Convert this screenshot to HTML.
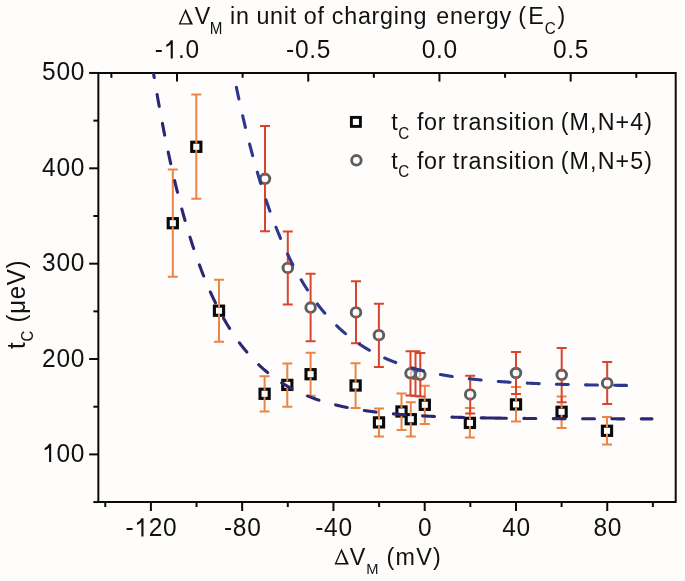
<!DOCTYPE html>
<html><head><meta charset="utf-8"><style>
html,body{margin:0;padding:0;background:#fefdfb;}
body{width:685px;height:581px;overflow:hidden;}
svg{display:block;filter:blur(0.3px);}
text{font-family:"Liberation Sans",sans-serif;fill:#111;letter-spacing:0.75px;}
</style></head><body>
<svg width="685" height="581" viewBox="0 0 685 581">
<defs><clipPath id="pc"><rect x="98.35" y="73.0" width="577.35" height="429.0"/></clipPath></defs>
<rect width="685" height="581" fill="#fefdfb"/>

<g stroke="#0a0a0a" stroke-width="2" fill="none" stroke-linecap="butt">
<path d="M98.35 72.0V503.0M675.7 72.0V503.0M97.35 73.0H676.7M97.35 502.0H676.7"/>
<path d="M93.35 502.07H98.35"/>
<path d="M89.15 454.39H98.35"/>
<path d="M93.35 406.71H98.35"/>
<path d="M89.15 359.03H98.35"/>
<path d="M93.35 311.35H98.35"/>
<path d="M89.15 263.67H98.35"/>
<path d="M93.35 215.99H98.35"/>
<path d="M89.15 168.31H98.35"/>
<path d="M93.35 120.63H98.35"/>
<path d="M89.15 72.95H98.35"/>
<path d="M105.26 502.0V507.0"/>
<path d="M150.90 502.0V511.0"/>
<path d="M196.53 502.0V507.0"/>
<path d="M242.16 502.0V511.0"/>
<path d="M287.80 502.0V507.0"/>
<path d="M333.43 502.0V511.0"/>
<path d="M379.07 502.0V507.0"/>
<path d="M424.70 502.0V511.0"/>
<path d="M470.33 502.0V507.0"/>
<path d="M515.97 502.0V511.0"/>
<path d="M561.60 502.0V507.0"/>
<path d="M607.24 502.0V511.0"/>
<path d="M652.87 502.0V507.0"/>
<path d="M111.39 73.0V77.8"/>
<path d="M177.00 73.0V81.6"/>
<path d="M242.61 73.0V77.8"/>
<path d="M308.23 73.0V81.6"/>
<path d="M373.84 73.0V77.8"/>
<path d="M439.45 73.0V81.6"/>
<path d="M505.06 73.0V77.8"/>
<path d="M570.67 73.0V81.6"/>
<path d="M636.29 73.0V77.8"/>
</g>
<g font-size="24.5">
<text x="42.07" y="461.89" transform="matrix(1 0 0 1.04 0 -18.476)">&#8199;00</text>
<text x="42.07" y="366.53" transform="matrix(1 0 0 1.04 0 -14.661)">200</text>
<text x="42.07" y="271.17" transform="matrix(1 0 0 1.04 0 -10.847)">300</text>
<text x="42.07" y="175.81" transform="matrix(1 0 0 1.04 0 -7.032)">400</text>
<text x="42.07" y="80.45" transform="matrix(1 0 0 1.04 0 -3.218)">500</text>
<text x="125.48" y="536.50" transform="matrix(1 0 0 1.04 0 -21.460)">-&#8199;20</text>
<text x="223.93" y="536.50" transform="matrix(1 0 0 1.04 0 -21.460)">-80</text>
<text x="315.20" y="536.50" transform="matrix(1 0 0 1.04 0 -21.460)">-40</text>
<text x="418.11" y="536.50" transform="matrix(1 0 0 1.04 0 -21.460)">0</text>
<text x="502.19" y="536.50" transform="matrix(1 0 0 1.04 0 -21.460)">40</text>
<text x="593.46" y="536.50" transform="matrix(1 0 0 1.04 0 -21.460)">80</text>
<text x="154.79" y="58.50" transform="matrix(1 0 0 1.04 0 -2.340)">-&#8199;.0</text>
<text x="286.02" y="58.50" transform="matrix(1 0 0 1.04 0 -2.340)">-0.5</text>
<text x="421.70" y="58.50" transform="matrix(1 0 0 1.04 0 -2.340)">0.0</text>
<text x="552.92" y="58.50" transform="matrix(1 0 0 1.04 0 -2.340)">0.5</text>
</g>
<path d="M51.20 461.89L49.05 461.89L49.05 447.72Q47.34 449.35 44.65 450.37L44.65 448.18Q47.83 446.65 49.13 443.65L51.20 443.65ZM143.51 536.50L141.36 536.50L141.36 522.33Q139.65 523.96 136.96 524.98L136.96 522.79Q140.14 521.26 141.44 518.26L143.51 518.26ZM172.83 58.50L170.68 58.50L170.68 44.33Q168.97 45.96 166.27 46.98L166.27 44.79Q169.46 43.26 170.76 40.26L172.83 40.26Z" fill="#111"/>
<text font-size="23.3" transform="matrix(1 0 0 1.04 0 -0.980)"><tspan x="194.70" y="24.50">V</tspan><tspan x="209.80" y="33.80" font-size="15.2">M</tspan><tspan x="230.00" y="24.50">in</tspan><tspan x="256.40" y="24.50">unit</tspan><tspan x="303.80" y="24.50">of</tspan><tspan x="331.80" y="24.50">charging</tspan><tspan x="436.20" y="24.50">energy</tspan><tspan x="518.30" y="24.50">(</tspan><tspan x="528.20" y="24.50">E</tspan><tspan x="544.65" y="33.80" font-size="15.2">C</tspan><tspan x="557.40" y="24.50">)</tspan></text>
<path d="M178.60 24.60L185.66 8.70L193.00 24.60ZM180.70 23.25L189.90 23.25L185.41 12.30Z" fill="#111" fill-rule="evenodd"/>
<text font-size="23.3" style="letter-spacing:1.25px" transform="matrix(1 0 0 1.04 0 -22.600)"><tspan x="349.80" y="565.00">V</tspan><tspan x="366.30" y="573.60" font-size="14.7">M</tspan><tspan x="386.50" y="565.00">(mV)</tspan></text>
<path d="M334.50 564.40L341.56 548.50L348.90 564.40ZM336.60 563.05L345.80 563.05L341.31 552.10Z" fill="#111" fill-rule="evenodd"/>
<text transform="translate(25 349) rotate(-90) scale(1 1.04)" font-size="24">t<tspan font-size="15" dy="8">C</tspan><tspan dy="-8"> (&#956;eV)</tspan></text>
<rect x="351.4" y="117.4" width="9.0" height="9.0" fill="#fff" stroke="#0a0a0a" stroke-width="2.9"/>
<circle cx="356.4" cy="160.3" r="4.8" fill="#fff" stroke="#5e5e5e" stroke-width="2.8"/>
<text font-size="23.3" transform="matrix(1 0 0 1.04 0 -5.200)"><tspan x="391.35" y="130.00">t</tspan><tspan x="398.25" y="138.30" font-size="15.2">C</tspan><tspan x="416.90" y="130.00">for</tspan><tspan x="452.85" y="130.00">transition</tspan></text>
<text x="560.70" y="130.0" font-size="23.3" style="letter-spacing:1.1px" transform="matrix(1 0 0 1.04 0 -5.200)">(M,N+4)</text>
<text font-size="23.3" transform="matrix(1 0 0 1.04 0 -6.744)"><tspan x="391.35" y="168.60">t</tspan><tspan x="398.25" y="176.90" font-size="15.2">C</tspan><tspan x="416.90" y="168.60">for</tspan><tspan x="452.85" y="168.60">transition</tspan></text>
<text x="560.70" y="168.6" font-size="23.3" style="letter-spacing:1.1px" transform="matrix(1 0 0 1.04 0 -6.744)">(M,N+5)</text>
<rect x="168.20" y="218.60" width="9.2" height="9.2" fill="#fff" stroke="#0a0a0a" stroke-width="3.1"/>
<rect x="191.70" y="142.20" width="9.2" height="9.2" fill="#fff" stroke="#0a0a0a" stroke-width="3.1"/>
<rect x="214.40" y="306.10" width="9.2" height="9.2" fill="#fff" stroke="#0a0a0a" stroke-width="3.1"/>
<rect x="260.00" y="389.20" width="9.2" height="9.2" fill="#fff" stroke="#0a0a0a" stroke-width="3.1"/>
<rect x="282.70" y="380.30" width="9.2" height="9.2" fill="#fff" stroke="#0a0a0a" stroke-width="3.1"/>
<rect x="306.00" y="369.60" width="9.2" height="9.2" fill="#fff" stroke="#0a0a0a" stroke-width="3.1"/>
<rect x="351.00" y="380.90" width="9.2" height="9.2" fill="#fff" stroke="#0a0a0a" stroke-width="3.1"/>
<rect x="374.40" y="417.80" width="9.2" height="9.2" fill="#fff" stroke="#0a0a0a" stroke-width="3.1"/>
<rect x="396.90" y="406.90" width="9.2" height="9.2" fill="#fff" stroke="#0a0a0a" stroke-width="3.1"/>
<rect x="406.20" y="414.60" width="9.2" height="9.2" fill="#fff" stroke="#0a0a0a" stroke-width="3.1"/>
<rect x="420.20" y="400.20" width="9.2" height="9.2" fill="#fff" stroke="#0a0a0a" stroke-width="3.1"/>
<rect x="465.30" y="418.30" width="9.2" height="9.2" fill="#fff" stroke="#0a0a0a" stroke-width="3.1"/>
<rect x="511.40" y="399.80" width="9.2" height="9.2" fill="#fff" stroke="#0a0a0a" stroke-width="3.1"/>
<rect x="557.00" y="407.20" width="9.2" height="9.2" fill="#fff" stroke="#0a0a0a" stroke-width="3.1"/>
<rect x="602.40" y="426.20" width="9.2" height="9.2" fill="#fff" stroke="#0a0a0a" stroke-width="3.1"/>
<circle cx="265.00" cy="178.80" r="4.8" fill="#fff" stroke="#5e5e5e" stroke-width="2.9"/>
<circle cx="287.80" cy="267.90" r="4.8" fill="#fff" stroke="#5e5e5e" stroke-width="2.9"/>
<circle cx="310.60" cy="307.60" r="4.8" fill="#fff" stroke="#5e5e5e" stroke-width="2.9"/>
<circle cx="356.00" cy="312.40" r="4.8" fill="#fff" stroke="#5e5e5e" stroke-width="2.9"/>
<circle cx="378.90" cy="335.20" r="4.8" fill="#fff" stroke="#5e5e5e" stroke-width="2.9"/>
<circle cx="415.50" cy="374.00" r="4.8" fill="#fff" stroke="#5e5e5e" stroke-width="2.9"/>
<circle cx="410.50" cy="373.30" r="4.8" fill="#fff" stroke="#5e5e5e" stroke-width="2.9"/>
<circle cx="420.30" cy="374.80" r="4.8" fill="#fff" stroke="#5e5e5e" stroke-width="2.9"/>
<circle cx="470.20" cy="394.40" r="4.8" fill="#fff" stroke="#5e5e5e" stroke-width="2.9"/>
<circle cx="516.00" cy="373.00" r="4.8" fill="#fff" stroke="#5e5e5e" stroke-width="2.9"/>
<circle cx="561.70" cy="374.80" r="4.8" fill="#fff" stroke="#5e5e5e" stroke-width="2.9"/>
<circle cx="607.20" cy="383.20" r="4.8" fill="#fff" stroke="#5e5e5e" stroke-width="2.9"/>
<circle cx="415.50" cy="374.00" r="4.7" fill="none" stroke="#5e5e5e" stroke-width="2.2" opacity="0.35"/>
<path d="M167.80 169.40H177.80M172.80 169.40V220.00M172.80 226.40V276.70M167.80 276.70H177.80M191.30 94.50H201.30M196.30 94.50V143.60M196.30 150.00V198.80M191.30 198.80H201.30M214.00 279.80H224.00M219.00 279.80V307.50M219.00 313.90V341.70M214.00 341.70H224.00M259.60 376.20H269.60M264.60 376.20V390.60M264.60 397.00V411.60M259.60 411.60H269.60M282.30 363.40H292.30M287.30 363.40V381.70M287.30 388.10V406.70M282.30 406.70H292.30M305.60 352.80H315.60M310.60 352.80V371.00M310.60 377.40V395.70M305.60 395.70H315.60M350.60 363.20H360.60M355.60 363.20V382.30M355.60 388.70V408.00M350.60 408.00H360.60M374.00 408.60H384.00M379.00 408.60V419.20M379.00 425.60V436.60M374.00 436.60H384.00M396.50 393.40H406.50M401.50 393.40V408.30M401.50 414.70V429.90M396.50 429.90H406.50M405.80 402.20H415.80M410.80 402.20V416.00M410.80 422.40V436.60M405.80 436.60H415.80M419.80 385.70H429.80M424.80 385.70V401.60M424.80 408.00V423.90M419.80 423.90H429.80M464.90 408.10H474.90M469.90 408.10V419.70M469.90 426.10V437.50M464.90 437.50H474.90M511.00 387.10H521.00M516.00 387.10V401.20M516.00 407.60V421.60M511.00 421.60H521.00M556.60 396.40H566.60M561.60 396.40V408.60M561.60 415.00V428.10M556.60 428.10H566.60M602.00 417.10H612.00M607.00 417.10V427.60M607.00 434.00V444.60M602.00 444.60H612.00" stroke="#ec8443" stroke-width="2" fill="none"/>
<path d="M260.00 126.10H270.00M265.00 126.10V175.40M265.00 182.20V231.20M260.00 231.20H270.00M282.80 231.40H292.80M287.80 231.40V264.50M287.80 271.30V304.50M282.80 304.50H292.80M305.60 273.70H315.60M310.60 273.70V304.20M310.60 311.00V341.30M305.60 341.30H315.60M351.00 281.30H361.00M356.00 281.30V309.00M356.00 315.80V343.30M351.00 343.30H361.00M373.90 303.70H383.90M378.90 303.70V331.80M378.90 338.60V367.10M373.90 367.10H383.90M405.50 351.20H415.50M410.50 351.20V369.90M410.50 376.70V395.50M405.50 395.50H415.50M410.50 351.20H420.50M415.50 351.20V370.60M415.50 377.40V396.00M410.50 396.00H420.50M415.30 353.00H425.30M420.30 353.00V371.40M420.30 378.20V396.50M415.30 396.50H425.30M465.20 375.80H475.20M470.20 375.80V391.00M470.20 397.80V413.50M465.20 413.50H475.20M511.00 352.00H521.00M516.00 352.00V369.60M516.00 376.40V394.10M511.00 394.10H521.00M556.70 348.00H566.70M561.70 348.00V371.40M561.70 378.20V402.20M556.70 402.20H566.70M602.20 362.00H612.20M607.20 362.00V379.80M607.20 386.60V403.90M602.20 403.90H612.20" stroke="#d8452f" stroke-width="2" fill="none"/>
<g clip-path="url(#pc)" fill="none" stroke-width="3.1" stroke-linecap="round">
<path d="M151.36 60.00 L151.99 63.94 L152.62 67.83 L153.24 71.69 L153.87 75.50 L154.50 79.27 L155.12 82.99 L155.75 86.68 L156.37 90.33 L157.00 93.93 L157.63 97.50 L158.25 101.03 L158.88 104.52 L159.51 107.97 L160.13 111.38 L160.76 114.75 L161.39 118.09 L162.01 121.39 L162.64 124.66 L163.27 127.89 L163.89 131.08 L164.52 134.24 L165.15 137.37 L165.77 140.46 L166.40 143.51 L167.03 146.53 L167.65 149.52 L168.28 152.48 L168.91 155.40 L169.53 158.30 L170.16 161.16 L170.79 163.98 L171.41 166.78 L172.04 169.55 L172.67 172.29 L173.29 174.99 L173.92 177.67 L174.55 180.32 L175.17 182.94 L175.80 185.53 L176.43 188.09 L177.05 190.62 L177.68 193.13 L178.31 195.60 L178.93 198.06 L179.56 200.48 L180.18 202.88 L180.81 205.25 L181.44 207.59 L182.06 209.91 L182.69 212.21 L183.32 214.47 L183.94 216.72 L184.57 218.94 L185.20 221.13 L185.82 223.30 L186.45 225.45 L187.08 227.57 L187.70 229.67 L188.33 231.75 L188.96 233.80 L189.58 235.83 L190.21 237.84 L190.84 239.83 L191.46 241.80 L192.09 243.74 L192.72 245.66 L193.34 247.56 L193.97 249.45 L194.60 251.31 L195.22 253.14 L195.85 254.96 L196.48 256.76 L197.10 258.54 L197.73 260.30 L198.36 262.04 L198.98 263.77 L199.61 265.47 L200.24 267.15 L200.86 268.82 L201.49 270.47 L202.12 272.09 L202.74 273.71 L203.37 275.30 L203.99 276.88 L204.62 278.43 L205.25 279.98 L205.87 281.50 L206.50 283.01 L207.13 284.50 L207.75 285.98 L208.38 287.44 L209.01 288.88 L209.63 290.31 L210.26 291.72 L210.89 293.11 L211.51 294.49 L212.14 295.86 L212.77 297.21 L213.39 298.55 L214.02 299.87 L214.65 301.17 L215.27 302.47 L215.90 303.74 L216.53 305.01 L217.15 306.26 L217.78 307.49 L218.41 308.72 L219.03 309.93 L219.66 311.12 L220.29 312.31 L220.91 313.48 L221.54 314.63 L222.17 315.78 L222.79 316.91 L223.42 318.03 L224.05 319.14 L224.67 320.23 L225.30 321.31 L225.93 322.39 L226.55 323.45 L227.18 324.49 L227.81 325.53 L228.43 326.55 L229.06 327.57 L229.68 328.57 L230.31 329.56 L230.94 330.54 L231.56 331.51 L232.19 332.47 L232.82 333.42 L233.44 334.36 L234.07 335.29 L234.70 336.21 L235.32 337.11 L235.95 338.01 L236.58 338.90 L237.20 339.78 L237.83 340.65 L238.46 341.50 L239.08 342.35 L239.71 343.19 L240.34 344.03 L240.96 344.85 L241.59 345.66 L242.22 346.46 L242.84 347.26 L243.47 348.05 L244.10 348.82 L244.72 349.59 L245.35 350.35 L245.98 351.11 L246.60 351.85 L247.23 352.59 L247.86 353.32 L248.48 354.04 L249.11 354.75 L249.74 355.45 L250.36 356.15 L250.99 356.84 L251.62 357.52 L252.24 358.19 L252.87 358.86 L253.49 359.52 L254.12 360.17 L254.75 360.81 L255.37 361.45 L256.00 362.08 L256.63 362.71 L257.25 363.32 L257.88 363.93 L258.51 364.54 L259.13 365.13 L259.76 365.72 L260.39 366.31 L261.01 366.89 L261.64 367.46 L262.27 368.02 L262.89 368.58 L263.52 369.13 L264.15 369.68 L264.77 370.22 L265.40 370.75 L266.03 371.28 L266.65 371.81 L267.28 372.32 L267.91 372.83 L268.53 373.34 L269.16 373.84 L269.79 374.34 L270.41 374.82 L271.04 375.31 L271.67 375.79 L272.29 376.26 L272.92 376.73 L273.55 377.19 L274.17 377.65 L274.80 378.10 L275.43 378.55 L276.05 378.99 L276.68 379.43 L277.30 379.87 L277.93 380.29 L278.56 380.72 L279.18 381.14 L279.81 381.55 L280.44 381.96 L281.06 382.37 L281.69 382.77 L282.32 383.17 L282.94 383.56 L283.57 383.95 L284.20 384.33 L284.82 384.71 L285.45 385.09 L286.08 385.46 L286.70 385.82 L287.33 386.19 L287.96 386.55 L288.58 386.90 L289.21 387.25 L289.84 387.60 L290.46 387.94 L291.09 388.28 L291.72 388.62 L292.34 388.95 L292.97 389.28 L293.60 389.61 L294.22 389.93 L294.85 390.25 L295.48 390.56 L296.10 390.87 L296.73 391.18 L297.36 391.49 L297.98 391.79 L298.61 392.08 L299.24 392.38 L299.86 392.67 L300.49 392.96 L301.11 393.24 L301.74 393.53 L302.37 393.80 L302.99 394.08 L303.62 394.35 L304.25 394.62 L304.87 394.89 L305.50 395.15 L306.13 395.41 L306.75 395.67 L307.38 395.93 L308.01 396.18 L308.63 396.43 L309.26 396.68 L309.89 396.92 L310.51 397.16 L311.14 397.40 L311.77 397.64 L312.39 397.87 L313.02 398.10 L313.65 398.33 L314.27 398.56 L314.90 398.78 L315.53 399.00 L316.15 399.22 L316.78 399.44 L317.41 399.65 L318.03 399.86 L318.66 400.07 L319.29 400.28 L319.91 400.48 L320.54 400.68 L321.17 400.88 L321.79 401.08 L322.42 401.28 L323.05 401.47 L323.67 401.66 L324.30 401.85 L324.92 402.04 L325.55 402.23 L326.18 402.41 L326.80 402.59 L327.43 402.77 L328.06 402.95 L328.68 403.12 L329.31 403.29 L329.94 403.47 L330.56 403.64 L331.19 403.80 L331.82 403.97 L332.44 404.13 L333.07 404.30 L333.70 404.46 L334.32 404.62 L334.95 404.77 L335.58 404.93 L336.20 405.08 L336.83 405.23 L337.46 405.38 L338.08 405.53 L338.71 405.68 L339.34 405.82 L339.96 405.97 L340.59 406.11 L341.22 406.25 L341.84 406.39 L342.47 406.53 L343.10 406.66 L343.72 406.80 L344.35 406.93 L344.98 407.06 L345.60 407.19 L346.23 407.32 L346.86 407.45 L347.48 407.58 L348.11 407.70 L348.74 407.82 L349.36 407.94 L349.99 408.07 L350.61 408.18 L351.24 408.30 L351.87 408.42 L352.49 408.53 L353.12 408.65 L353.75 408.76 L354.37 408.87 L355.00 408.98 L355.63 409.09 L356.25 409.20 L356.88 409.31 L357.51 409.41 L358.13 409.52 L358.76 409.62 L359.39 409.72 L360.01 409.82 L360.64 409.92 L361.27 410.02 L361.89 410.12 L362.52 410.22 L363.15 410.31 L363.77 410.41 L364.40 410.50 L365.03 410.59 L365.65 410.68 L366.28 410.77 L366.91 410.86 L367.53 410.95 L368.16 411.04 L368.79 411.13 L369.41 411.21 L370.04 411.30 L370.67 411.38 L371.29 411.46 L371.92 411.54 L372.55 411.63 L373.17 411.71 L373.80 411.78 L374.42 411.86 L375.05 411.94 L375.68 412.02 L376.30 412.09 L376.93 412.17 L377.56 412.24 L378.18 412.32 L378.81 412.39 L379.44 412.46 L380.06 412.53 L380.69 412.60 L381.32 412.67 L381.94 412.74 L382.57 412.81 L383.20 412.87 L383.82 412.94 L384.45 413.01 L385.08 413.07 L385.70 413.14 L386.33 413.20 L386.96 413.26 L387.58 413.32 L388.21 413.39 L388.84 413.45 L389.46 413.51 L390.09 413.57 L390.72 413.62 L391.34 413.68 L391.97 413.74 L392.60 413.80 L393.22 413.85 L393.85 413.91 L394.48 413.96 L395.10 414.02 L395.73 414.07 L396.36 414.13 L396.98 414.18 L397.61 414.23 L398.23 414.28 L398.86 414.33 L399.49 414.38 L400.11 414.43 L400.74 414.48 L401.37 414.53 L401.99 414.58 L402.62 414.63 L403.25 414.67 L403.87 414.72 L404.50 414.77 L405.13 414.81 L405.75 414.86 L406.38 414.90 L407.01 414.95 L407.63 414.99 L408.26 415.03 L408.89 415.08 L409.51 415.12 L410.14 415.16 L410.77 415.20 L411.39 415.24 L412.02 415.28 L412.65 415.32 L413.27 415.36 L413.90 415.40 L414.53 415.44 L415.15 415.48 L415.78 415.52 L416.41 415.55 L417.03 415.59 L417.66 415.63 L418.29 415.66 L418.91 415.70 L419.54 415.73 L420.17 415.77 L420.79 415.80 L421.42 415.84 L422.04 415.87 L422.67 415.91 L423.30 415.94 L423.92 415.97 L424.55 416.00 L425.18 416.04 L425.80 416.07 L426.43 416.10 L427.06 416.13 L427.68 416.16 L428.31 416.19 L428.94 416.22 L429.56 416.25 L430.19 416.28 L430.82 416.31 L431.44 416.34 L432.07 416.37 L432.70 416.39 L433.32 416.42 L433.95 416.45 L434.58 416.48 L435.20 416.50 L435.83 416.53 L436.46 416.56 L437.08 416.58 L437.71 416.61 L438.34 416.63 L438.96 416.66 L439.59 416.68 L440.22 416.71 L440.84 416.73 L441.47 416.76 L442.10 416.78 L442.72 416.80 L443.35 416.83 L443.98 416.85 L444.60 416.87 L445.23 416.90 L445.86 416.92 L446.48 416.94 L447.11 416.96 L447.73 416.98 L448.36 417.00 L448.99 417.03 L449.61 417.05 L450.24 417.07 L450.87 417.09 L451.49 417.11 L452.12 417.13 L452.75 417.15 L453.37 417.17 L454.00 417.19 L454.63 417.20 L455.25 417.22 L455.88 417.24 L456.51 417.26 L457.13 417.28 L457.76 417.30 L458.39 417.31 L459.01 417.33 L459.64 417.35 L460.27 417.37 L460.89 417.38 L461.52 417.40 L462.15 417.42 L462.77 417.43 L463.40 417.45 L464.03 417.47 L464.65 417.48 L465.28 417.50 L465.91 417.51 L466.53 417.53 L467.16 417.55 L467.79 417.56 L468.41 417.58 L469.04 417.59 L469.67 417.60 L470.29 417.62 L470.92 417.63 L471.54 417.65 L472.17 417.66 L472.80 417.68 L473.42 417.69 L474.05 417.70 L474.68 417.72 L475.30 417.73 L475.93 417.74 L476.56 417.76 L477.18 417.77 L477.81 417.78 L478.44 417.79 L479.06 417.81 L479.69 417.82 L480.32 417.83 L480.94 417.84 L481.57 417.85 L482.20 417.87 L482.82 417.88 L483.45 417.89 L484.08 417.90 L484.70 417.91 L485.33 417.92 L485.96 417.93 L486.58 417.94 L487.21 417.96 L487.84 417.97 L488.46 417.98 L489.09 417.99 L489.72 418.00 L490.34 418.01 L490.97 418.02 L491.60 418.03 L492.22 418.04 L492.85 418.05 L493.48 418.06 L494.10 418.07 L494.73 418.08 L495.35 418.09 L495.98 418.09 L496.61 418.10 L497.23 418.11 L497.86 418.12 L498.49 418.13 L499.11 418.14 L499.74 418.15 L500.37 418.16 L500.99 418.16 L501.62 418.17 L502.25 418.18 L502.87 418.19 L503.50 418.20 L504.13 418.21 L504.75 418.21 L505.38 418.22 L506.01 418.23 L506.63 418.24 L507.26 418.24 L507.89 418.25 L508.51 418.26 L509.14 418.27 L509.77 418.27 L510.39 418.28 L511.02 418.29 L511.65 418.29 L512.27 418.30 L512.90 418.31 L513.53 418.31 L514.15 418.32 L514.78 418.33 L515.41 418.33 L516.03 418.34 L516.66 418.35 L517.29 418.35 L517.91 418.36 L518.54 418.37 L519.16 418.37 L519.79 418.38 L520.42 418.38 L521.04 418.39 L521.67 418.40 L522.30 418.40 L522.92 418.41 L523.55 418.41 L524.18 418.42 L524.80 418.42 L525.43 418.43 L526.06 418.44 L526.68 418.44 L527.31 418.45 L527.94 418.45 L528.56 418.46 L529.19 418.46 L529.82 418.47 L530.44 418.47 L531.07 418.48 L531.70 418.48 L532.32 418.49 L532.95 418.49 L533.58 418.50 L534.20 418.50 L534.83 418.51 L535.46 418.51 L536.08 418.51 L536.71 418.52 L537.34 418.52 L537.96 418.53 L538.59 418.53 L539.22 418.54 L539.84 418.54 L540.47 418.55 L541.10 418.55 L541.72 418.55 L542.35 418.56 L542.97 418.56 L543.60 418.57 L544.23 418.57 L544.85 418.57 L545.48 418.58 L546.11 418.58 L546.73 418.58 L547.36 418.59 L547.99 418.59 L548.61 418.60 L549.24 418.60 L549.87 418.60 L550.49 418.61 L551.12 418.61 L551.75 418.61 L552.37 418.62 L553.00 418.62 L553.63 418.62 L554.25 418.63 L554.88 418.63 L555.51 418.63 L556.13 418.64 L556.76 418.64 L557.39 418.64 L558.01 418.65 L558.64 418.65 L559.27 418.65 L559.89 418.66 L560.52 418.66 L561.15 418.66 L561.77 418.66 L562.40 418.67 L563.03 418.67 L563.65 418.67 L564.28 418.68 L564.91 418.68 L565.53 418.68 L566.16 418.68 L566.79 418.69 L567.41 418.69 L568.04 418.69 L568.66 418.69 L569.29 418.70 L569.92 418.70 L570.54 418.70 L571.17 418.70 L571.80 418.71 L572.42 418.71 L573.05 418.71 L573.68 418.71 L574.30 418.72 L574.93 418.72 L575.56 418.72 L576.18 418.72 L576.81 418.72 L577.44 418.73 L578.06 418.73 L578.69 418.73 L579.32 418.73 L579.94 418.74 L580.57 418.74 L581.20 418.74 L581.82 418.74 L582.45 418.74 L583.08 418.75 L583.70 418.75 L584.33 418.75 L584.96 418.75 L585.58 418.75 L586.21 418.76 L586.84 418.76 L587.46 418.76 L588.09 418.76 L588.72 418.76 L589.34 418.76 L589.97 418.77 L590.60 418.77 L591.22 418.77 L591.85 418.77 L592.47 418.77 L593.10 418.77 L593.73 418.78 L594.35 418.78 L594.98 418.78 L595.61 418.78 L596.23 418.78 L596.86 418.78 L597.49 418.79 L598.11 418.79 L598.74 418.79 L599.37 418.79 L599.99 418.79 L600.62 418.79 L601.25 418.79 L601.87 418.80 L602.50 418.80 L603.13 418.80 L603.75 418.80 L604.38 418.80 L605.01 418.80 L605.63 418.80 L606.26 418.81 L606.89 418.81 L607.51 418.81 L608.14 418.81 L608.77 418.81 L609.39 418.81 L610.02 418.81 L610.65 418.81 L611.27 418.82 L611.90 418.82 L612.53 418.82 L613.15 418.82 L613.78 418.82 L614.41 418.82 L615.03 418.82 L615.66 418.82 L616.28 418.82 L616.91 418.83 L617.54 418.83 L618.16 418.83 L618.79 418.83 L619.42 418.83 L620.04 418.83 L620.67 418.83 L621.30 418.83 L621.92 418.83 L622.55 418.84 L623.18 418.84 L623.80 418.84 L624.43 418.84 L625.06 418.84 L625.68 418.84 L626.31 418.84 L626.94 418.84 L627.56 418.84 L628.19 418.84 L628.82 418.84 L629.44 418.85 L630.07 418.85 L630.70 418.85 L631.32 418.85 L631.95 418.85 L632.58 418.85 L633.20 418.85 L633.83 418.85 L634.46 418.85 L635.08 418.85 L635.71 418.85 L636.34 418.85 L636.96 418.86 L637.59 418.86 L638.22 418.86 L638.84 418.86 L639.47 418.86 L640.09 418.86 L640.72 418.86 L641.35 418.86 L641.97 418.86 L642.60 418.86 L643.23 418.86 L643.85 418.86 L644.48 418.86 L645.11 418.86 L645.73 418.87 L646.36 418.87 L646.99 418.87 L647.61 418.87 L648.24 418.87 L648.87 418.87 L649.49 418.87 L650.12 418.87 L650.75 418.87 L651.37 418.87 L652.00 418.87" stroke="#2b2772" stroke-dasharray="0.00 5.81 11.90 17.38 11.90 17.38 11.90 17.38 11.90 17.38 11.90 17.38 11.90 17.38 11.90 17.38 11.90 17.38 11.90 17.38 11.90 17.38 11.90 17.38 11.90 17.38 11.90 17.38 11.90 17.38 11.90 17.38 11.90 17.38 11.90 17.38 11.90 17.38 11.90 17.38 25.26 17.45 11.90 17.45 11.90 17.45 11.90 17.45 11.90 17.45 11.90 50.00 0.00"/>
<path d="M230.90 60.00 L231.39 62.58 L231.89 65.15 L232.39 67.69 L232.89 70.22 L233.39 72.72 L233.89 75.21 L234.39 77.67 L234.89 80.11 L235.39 82.54 L235.88 84.95 L236.38 87.33 L236.88 89.70 L237.38 92.05 L237.88 94.38 L238.38 96.69 L238.88 98.99 L239.38 101.26 L239.88 103.52 L240.37 105.76 L240.87 107.98 L241.37 110.19 L241.87 112.38 L242.37 114.55 L242.87 116.70 L243.37 118.83 L243.87 120.95 L244.37 123.05 L244.86 125.14 L245.36 127.21 L245.86 129.26 L246.36 131.30 L246.86 133.31 L247.36 135.32 L247.86 137.31 L248.36 139.28 L248.86 141.23 L249.35 143.18 L249.85 145.10 L250.35 147.01 L250.85 148.91 L251.35 150.79 L251.85 152.65 L252.35 154.50 L252.85 156.34 L253.35 158.16 L253.84 159.97 L254.34 161.76 L254.84 163.54 L255.34 165.30 L255.84 167.05 L256.34 168.79 L256.84 170.51 L257.34 172.22 L257.83 173.91 L258.33 175.59 L258.83 177.26 L259.33 178.92 L259.83 180.56 L260.33 182.19 L260.83 183.81 L261.33 185.41 L261.83 187.00 L262.32 188.58 L262.82 190.14 L263.32 191.70 L263.82 193.24 L264.32 194.77 L264.82 196.28 L265.32 197.79 L265.82 199.28 L266.32 200.76 L266.81 202.23 L267.31 203.69 L267.81 205.13 L268.31 206.57 L268.81 207.99 L269.31 209.40 L269.81 210.80 L270.31 212.19 L270.81 213.57 L271.30 214.93 L271.80 216.29 L272.30 217.64 L272.80 218.97 L273.30 220.30 L273.80 221.61 L274.30 222.91 L274.80 224.21 L275.30 225.49 L275.79 226.76 L276.29 228.03 L276.79 229.28 L277.29 230.52 L277.79 231.75 L278.29 232.98 L278.79 234.19 L279.29 235.39 L279.79 236.59 L280.28 237.77 L280.78 238.95 L281.28 240.12 L281.78 241.27 L282.28 242.42 L282.78 243.56 L283.28 244.69 L283.78 245.81 L284.28 246.92 L284.77 248.02 L285.27 249.12 L285.77 250.20 L286.27 251.28 L286.77 252.35 L287.27 253.41 L287.77 254.46 L288.27 255.50 L288.77 256.54 L289.26 257.56 L289.76 258.58 L290.26 259.59 L290.76 260.60 L291.26 261.59 L291.76 262.58 L292.26 263.55 L292.76 264.53 L293.26 265.49 L293.75 266.44 L294.25 267.39 L294.75 268.33 L295.25 269.27 L295.75 270.19 L296.25 271.11 L296.75 272.02 L297.25 272.93 L297.75 273.82 L298.24 274.71 L298.74 275.59 L299.24 276.47 L299.74 277.34 L300.24 278.20 L300.74 279.05 L301.24 279.90 L301.74 280.74 L302.24 281.58 L302.73 282.41 L303.23 283.23 L303.73 284.04 L304.23 284.85 L304.73 285.65 L305.23 286.45 L305.73 287.24 L306.23 288.02 L306.73 288.80 L307.22 289.57 L307.72 290.34 L308.22 291.09 L308.72 291.85 L309.22 292.59 L309.72 293.33 L310.22 294.07 L310.72 294.80 L311.22 295.52 L311.71 296.24 L312.21 296.95 L312.71 297.66 L313.21 298.36 L313.71 299.05 L314.21 299.74 L314.71 300.43 L315.21 301.10 L315.70 301.78 L316.20 302.45 L316.70 303.11 L317.20 303.77 L317.70 304.42 L318.20 305.06 L318.70 305.71 L319.20 306.34 L319.70 306.98 L320.19 307.60 L320.69 308.22 L321.19 308.84 L321.69 309.45 L322.19 310.06 L322.69 310.66 L323.19 311.26 L323.69 311.85 L324.19 312.44 L324.68 313.02 L325.18 313.60 L325.68 314.18 L326.18 314.75 L326.68 315.31 L327.18 315.87 L327.68 316.43 L328.18 316.98 L328.68 317.53 L329.17 318.07 L329.67 318.61 L330.17 319.14 L330.67 319.67 L331.17 320.20 L331.67 320.72 L332.17 321.24 L332.67 321.75 L333.17 322.26 L333.66 322.77 L334.16 323.27 L334.66 323.77 L335.16 324.26 L335.66 324.75 L336.16 325.24 L336.66 325.72 L337.16 326.20 L337.66 326.67 L338.15 327.14 L338.65 327.61 L339.15 328.07 L339.65 328.53 L340.15 328.99 L340.65 329.44 L341.15 329.89 L341.65 330.33 L342.15 330.77 L342.64 331.21 L343.14 331.65 L343.64 332.08 L344.14 332.50 L344.64 332.93 L345.14 333.35 L345.64 333.77 L346.14 334.18 L346.64 334.59 L347.13 335.00 L347.63 335.40 L348.13 335.81 L348.63 336.20 L349.13 336.60 L349.63 336.99 L350.13 337.38 L350.63 337.77 L351.13 338.15 L351.62 338.53 L352.12 338.90 L352.62 339.28 L353.12 339.65 L353.62 340.02 L354.12 340.38 L354.62 340.74 L355.12 341.10 L355.62 341.46 L356.11 341.81 L356.61 342.16 L357.11 342.51 L357.61 342.85 L358.11 343.20 L358.61 343.54 L359.11 343.87 L359.61 344.21 L360.11 344.54 L360.60 344.87 L361.10 345.19 L361.60 345.52 L362.10 345.84 L362.60 346.16 L363.10 346.47 L363.60 346.79 L364.10 347.10 L364.60 347.41 L365.09 347.71 L365.59 348.02 L366.09 348.32 L366.59 348.62 L367.09 348.91 L367.59 349.21 L368.09 349.50 L368.59 349.79 L369.09 350.07 L369.58 350.36 L370.08 350.64 L370.58 350.92 L371.08 351.20 L371.58 351.48 L372.08 351.75 L372.58 352.02 L373.08 352.29 L373.57 352.56 L374.07 352.83 L374.57 353.09 L375.07 353.35 L375.57 353.61 L376.07 353.87 L376.57 354.12 L377.07 354.37 L377.57 354.62 L378.06 354.87 L378.56 355.12 L379.06 355.36 L379.56 355.61 L380.06 355.85 L380.56 356.09 L381.06 356.33 L381.56 356.56 L382.06 356.79 L382.55 357.03 L383.05 357.26 L383.55 357.48 L384.05 357.71 L384.55 357.93 L385.05 358.16 L385.55 358.38 L386.05 358.60 L386.55 358.81 L387.04 359.03 L387.54 359.24 L388.04 359.46 L388.54 359.67 L389.04 359.88 L389.54 360.08 L390.04 360.29 L390.54 360.49 L391.04 360.70 L391.53 360.90 L392.03 361.10 L392.53 361.29 L393.03 361.49 L393.53 361.68 L394.03 361.88 L394.53 362.07 L395.03 362.26 L395.53 362.45 L396.02 362.63 L396.52 362.82 L397.02 363.00 L397.52 363.18 L398.02 363.37 L398.52 363.55 L399.02 363.72 L399.52 363.90 L400.02 364.08 L400.51 364.25 L401.01 364.42 L401.51 364.59 L402.01 364.76 L402.51 364.93 L403.01 365.10 L403.51 365.26 L404.01 365.43 L404.51 365.59 L405.00 365.75 L405.50 365.91 L406.00 366.07 L406.50 366.23 L407.00 366.39 L407.50 366.54 L408.00 366.70 L408.50 366.85 L409.00 367.00 L409.49 367.15 L409.99 367.30 L410.49 367.45 L410.99 367.60 L411.49 367.75 L411.99 367.89 L412.49 368.03 L412.99 368.18 L413.49 368.32 L413.98 368.46 L414.48 368.60 L414.98 368.74 L415.48 368.87 L415.98 369.01 L416.48 369.14 L416.98 369.28 L417.48 369.41 L417.98 369.54 L418.47 369.67 L418.97 369.80 L419.47 369.93 L419.97 370.06 L420.47 370.18 L420.97 370.31 L421.47 370.43 L421.97 370.56 L422.47 370.68 L422.96 370.80 L423.46 370.92 L423.96 371.04 L424.46 371.16 L424.96 371.28 L425.46 371.40 L425.96 371.51 L426.46 371.63 L426.96 371.74 L427.45 371.85 L427.95 371.97 L428.45 372.08 L428.95 372.19 L429.45 372.30 L429.95 372.41 L430.45 372.51 L430.95 372.62 L431.44 372.73 L431.94 372.83 L432.44 372.94 L432.94 373.04 L433.44 373.14 L433.94 373.25 L434.44 373.35 L434.94 373.45 L435.44 373.55 L435.93 373.65 L436.43 373.74 L436.93 373.84 L437.43 373.94 L437.93 374.03 L438.43 374.13 L438.93 374.22 L439.43 374.32 L439.93 374.41 L440.42 374.50 L440.92 374.59 L441.42 374.68 L441.92 374.77 L442.42 374.86 L442.92 374.95 L443.42 375.04 L443.92 375.13 L444.42 375.21 L444.91 375.30 L445.41 375.38 L445.91 375.47 L446.41 375.55 L446.91 375.63 L447.41 375.72 L447.91 375.80 L448.41 375.88 L448.91 375.96 L449.40 376.04 L449.90 376.12 L450.40 376.20 L450.90 376.27 L451.40 376.35 L451.90 376.43 L452.40 376.50 L452.90 376.58 L453.40 376.65 L453.89 376.73 L454.39 376.80 L454.89 376.88 L455.39 376.95 L455.89 377.02 L456.39 377.09 L456.89 377.16 L457.39 377.23 L457.89 377.30 L458.38 377.37 L458.88 377.44 L459.38 377.51 L459.88 377.57 L460.38 377.64 L460.88 377.71 L461.38 377.77 L461.88 377.84 L462.38 377.90 L462.87 377.97 L463.37 378.03 L463.87 378.10 L464.37 378.16 L464.87 378.22 L465.37 378.28 L465.87 378.34 L466.37 378.40 L466.87 378.46 L467.36 378.52 L467.86 378.58 L468.36 378.64 L468.86 378.70 L469.36 378.76 L469.86 378.82 L470.36 378.87 L470.86 378.93 L471.36 378.99 L471.85 379.04 L472.35 379.10 L472.85 379.15 L473.35 379.21 L473.85 379.26 L474.35 379.31 L474.85 379.37 L475.35 379.42 L475.85 379.47 L476.34 379.52 L476.84 379.58 L477.34 379.63 L477.84 379.68 L478.34 379.73 L478.84 379.78 L479.34 379.83 L479.84 379.88 L480.34 379.92 L480.83 379.97 L481.33 380.02 L481.83 380.07 L482.33 380.12 L482.83 380.16 L483.33 380.21 L483.83 380.25 L484.33 380.30 L484.83 380.35 L485.32 380.39 L485.82 380.44 L486.32 380.48 L486.82 380.52 L487.32 380.57 L487.82 380.61 L488.32 380.65 L488.82 380.70 L489.31 380.74 L489.81 380.78 L490.31 380.82 L490.81 380.86 L491.31 380.90 L491.81 380.94 L492.31 380.98 L492.81 381.02 L493.31 381.06 L493.80 381.10 L494.30 381.14 L494.80 381.18 L495.30 381.22 L495.80 381.26 L496.30 381.29 L496.80 381.33 L497.30 381.37 L497.80 381.41 L498.29 381.44 L498.79 381.48 L499.29 381.51 L499.79 381.55 L500.29 381.59 L500.79 381.62 L501.29 381.66 L501.79 381.69 L502.29 381.72 L502.78 381.76 L503.28 381.79 L503.78 381.83 L504.28 381.86 L504.78 381.89 L505.28 381.92 L505.78 381.96 L506.28 381.99 L506.78 382.02 L507.27 382.05 L507.77 382.08 L508.27 382.12 L508.77 382.15 L509.27 382.18 L509.77 382.21 L510.27 382.24 L510.77 382.27 L511.27 382.30 L511.76 382.33 L512.26 382.36 L512.76 382.38 L513.26 382.41 L513.76 382.44 L514.26 382.47 L514.76 382.50 L515.26 382.53 L515.76 382.55 L516.25 382.58 L516.75 382.61 L517.25 382.64 L517.75 382.66 L518.25 382.69 L518.75 382.72 L519.25 382.74 L519.75 382.77 L520.25 382.79 L520.74 382.82 L521.24 382.84 L521.74 382.87 L522.24 382.89 L522.74 382.92 L523.24 382.94 L523.74 382.97 L524.24 382.99 L524.74 383.02 L525.23 383.04 L525.73 383.06 L526.23 383.09 L526.73 383.11 L527.23 383.13 L527.73 383.16 L528.23 383.18 L528.73 383.20 L529.23 383.22 L529.72 383.25 L530.22 383.27 L530.72 383.29 L531.22 383.31 L531.72 383.33 L532.22 383.35 L532.72 383.37 L533.22 383.40 L533.72 383.42 L534.21 383.44 L534.71 383.46 L535.21 383.48 L535.71 383.50 L536.21 383.52 L536.71 383.54 L537.21 383.56 L537.71 383.58 L538.21 383.60 L538.70 383.62 L539.20 383.63 L539.70 383.65 L540.20 383.67 L540.70 383.69 L541.20 383.71 L541.70 383.73 L542.20 383.75 L542.70 383.76 L543.19 383.78 L543.69 383.80 L544.19 383.82 L544.69 383.83 L545.19 383.85 L545.69 383.87 L546.19 383.89 L546.69 383.90 L547.18 383.92 L547.68 383.94 L548.18 383.95 L548.68 383.97 L549.18 383.98 L549.68 384.00 L550.18 384.02 L550.68 384.03 L551.18 384.05 L551.67 384.06 L552.17 384.08 L552.67 384.09 L553.17 384.11 L553.67 384.13 L554.17 384.14 L554.67 384.15 L555.17 384.17 L555.67 384.18 L556.16 384.20 L556.66 384.21 L557.16 384.23 L557.66 384.24 L558.16 384.26 L558.66 384.27 L559.16 384.28 L559.66 384.30 L560.16 384.31 L560.65 384.32 L561.15 384.34 L561.65 384.35 L562.15 384.36 L562.65 384.38 L563.15 384.39 L563.65 384.40 L564.15 384.42 L564.65 384.43 L565.14 384.44 L565.64 384.45 L566.14 384.47 L566.64 384.48 L567.14 384.49 L567.64 384.50 L568.14 384.51 L568.64 384.53 L569.14 384.54 L569.63 384.55 L570.13 384.56 L570.63 384.57 L571.13 384.58 L571.63 384.60 L572.13 384.61 L572.63 384.62 L573.13 384.63 L573.63 384.64 L574.12 384.65 L574.62 384.66 L575.12 384.67 L575.62 384.68 L576.12 384.69 L576.62 384.70 L577.12 384.71 L577.62 384.73 L578.12 384.74 L578.61 384.75 L579.11 384.76 L579.61 384.77 L580.11 384.78 L580.61 384.79 L581.11 384.80 L581.61 384.80 L582.11 384.81 L582.61 384.82 L583.10 384.83 L583.60 384.84 L584.10 384.85 L584.60 384.86 L585.10 384.87 L585.60 384.88 L586.10 384.89 L586.60 384.90 L587.10 384.91 L587.59 384.92 L588.09 384.92 L588.59 384.93 L589.09 384.94 L589.59 384.95 L590.09 384.96 L590.59 384.97 L591.09 384.97 L591.59 384.98 L592.08 384.99 L592.58 385.00 L593.08 385.01 L593.58 385.02 L594.08 385.02 L594.58 385.03 L595.08 385.04 L595.58 385.05 L596.08 385.05 L596.57 385.06 L597.07 385.07 L597.57 385.08 L598.07 385.08 L598.57 385.09 L599.07 385.10 L599.57 385.11 L600.07 385.11 L600.57 385.12 L601.06 385.13 L601.56 385.13 L602.06 385.14 L602.56 385.15 L603.06 385.16 L603.56 385.16 L604.06 385.17 L604.56 385.18 L605.05 385.18 L605.55 385.19 L606.05 385.20 L606.55 385.20 L607.05 385.21 L607.55 385.21 L608.05 385.22 L608.55 385.23 L609.05 385.23 L609.54 385.24 L610.04 385.25 L610.54 385.25 L611.04 385.26 L611.54 385.26 L612.04 385.27 L612.54 385.28 L613.04 385.28 L613.54 385.29 L614.03 385.29 L614.53 385.30 L615.03 385.30 L615.53 385.31 L616.03 385.32 L616.53 385.32 L617.03 385.33 L617.53 385.33 L618.03 385.34 L618.52 385.34 L619.02 385.35 L619.52 385.35 L620.02 385.36 L620.52 385.36 L621.02 385.37 L621.52 385.37 L622.02 385.38 L622.52 385.38 L623.01 385.39 L623.51 385.39 L624.01 385.40 L624.51 385.40 L625.01 385.41 L625.51 385.41 L626.01 385.42 L626.51 385.42 L627.01 385.43 L627.50 385.43 L628.00 385.44 L628.50 385.44 L629.00 385.45 L629.50 385.45" stroke="#2d378e" stroke-dasharray="0.00 0.00 10.69 17.22 11.90 17.22 11.90 17.22 11.90 17.22 11.90 17.22 11.90 17.22 11.90 17.22 11.90 17.22 11.90 17.22 11.90 17.22 11.90 17.22 11.90 17.22 11.90 17.22 11.90 17.22 11.90 17.22 11.90 17.22 11.90 17.22 11.90 17.22 11.90 17.22 11.90 17.22 11.90 17.22 11.90 50.00 0.00"/>
</g>
</svg></body></html>
